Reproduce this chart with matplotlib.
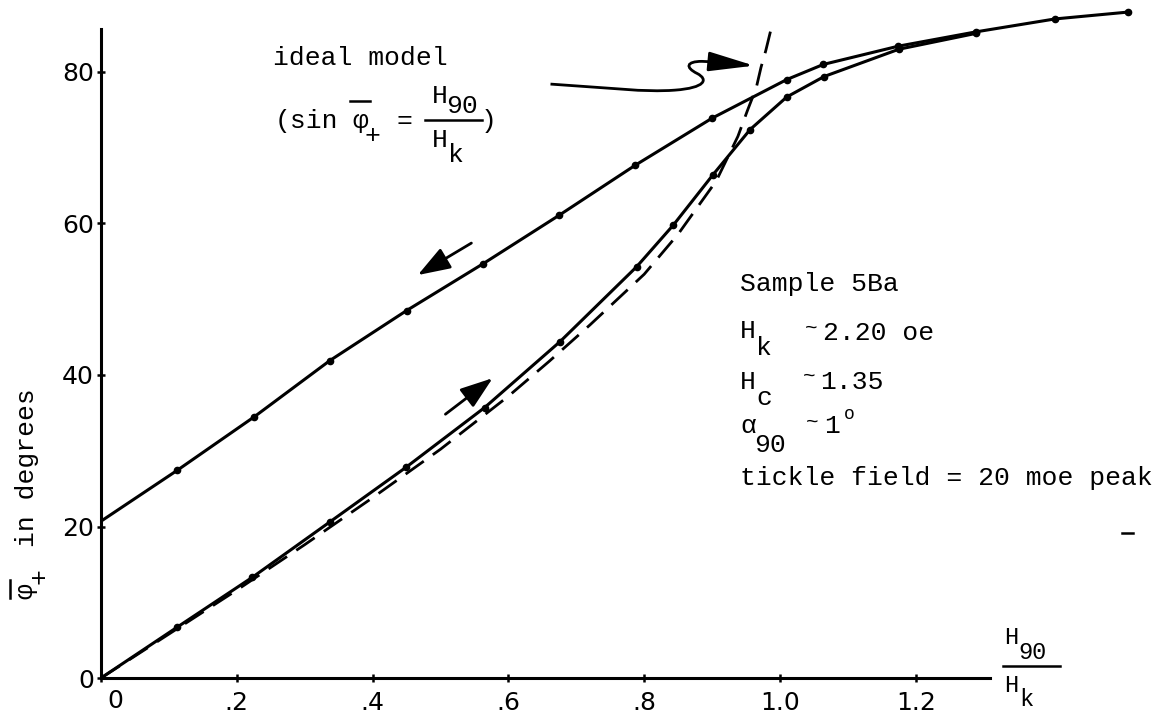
import matplotlib
matplotlib.use('Agg')
import matplotlib.pyplot as plt
from matplotlib.path import Path
from matplotlib.patches import PathPatch
from matplotlib.lines import Line2D

plt.rcParams['font.family'] = ['Liberation Mono', 'DejaVu Sans Mono']

# decreasing field branch (upper curve)
h_down = [0, 0.112, 0.226, 0.337, 0.45, 0.563, 0.675, 0.787, 0.90, 1.010, 1.064, 1.174, 1.289, 1.405, 1.512]
phi_down = [20.7, 27.4, 34.5, 41.9, 48.5, 54.7, 61.1, 67.7, 73.9, 79.0, 81.0, 83.4, 85.3, 87.0, 87.9]

# increasing field branch (lower curve)
h_up = [0, 0.112, 0.223, 0.337, 0.449, 0.565, 0.676, 0.789, 0.843, 0.901, 0.956, 1.010, 1.065, 1.175, 1.289]
phi_up = [0, 6.7, 13.3, 20.6, 27.8, 35.7, 44.4, 54.3, 59.8, 66.4, 72.4, 76.7, 79.4, 83.0, 85.1]

# ideal model, sin(phi) = H90/Hk
h_ideal = [0, 0.1, 0.2, 0.3, 0.4, 0.5, 0.6, 0.66, 0.72, 0.8, 0.85, 0.906, 0.938, 0.952, 0.965, 0.972, 0.979, 0.988]
phi_ideal = [0, 5.8, 11.6, 17.6, 23.8, 30.2, 37.2, 41.8, 46.6, 53.3, 58.6, 65.6, 71.5, 74.9, 77.9, 80.6, 82.8, 86.1]

xticks = [0, 0.2, 0.4, 0.6, 0.8, 1.0, 1.2]
xtick_labels = ['', '.2', '.4', '.6', '.8', '1.0', '1.2']
yticks = [0, 20, 40, 60, 80]
ytick_labels = ['0', '20', '40', '60', '80']

W, H = 1169, 714
fig = plt.figure(figsize=(W / 100, H / 100), dpi=100)
ax = fig.add_axes([0.0864, 0.0504, 0.9003, 0.9443])
ax.set_xlim(0, 1.55)
ax.set_ylim(0, 89)


def put(x, y, s, size=19, **kw):
    # typewriter text placed in pixel coordinates from the top-left corner
    fig.text(x / W, 1 - y / H, s, fontsize=size, va='baseline', **kw)


def rule(x1, y1, x2, y2, lw=1.8):
    fig.add_artist(Line2D([x1 / W, x2 / W], [1 - y1 / H, 1 - y2 / H],
                          transform=fig.transFigure, color='black', lw=lw))


ax.plot(h_down, phi_down, color='black', lw=2.2, marker='o', ms=4.5, markevery=list(range(1, len(h_down))))
ax.plot(h_up, phi_up, color='black', lw=2.2, marker='o', ms=4.5, markevery=list(range(1, len(h_up))))
ax.plot(h_ideal, phi_ideal, color='black', lw=2.0, linestyle=(0, (8, 4)))

# axes: only left and bottom, cut short
for s in ['top', 'right']:
    ax.spines[s].set_visible(False)
ax.spines['bottom'].set_bounds(0, 1.31)
ax.spines['left'].set_bounds(0, 85.7)
ax.spines['bottom'].set_linewidth(2.2)
ax.spines['left'].set_linewidth(2.2)

ax.set_xticks(xticks)
ax.set_xticklabels(xtick_labels, fontfamily='DejaVu Sans', fontsize=18)
ax.set_yticks(yticks)
ax.set_yticklabels(ytick_labels, fontfamily='DejaVu Sans', fontsize=18)
ax.tick_params(axis='both', direction='inout', length=6, width=1.8)
ax.tick_params(axis='x', pad=6)
ax.tick_params(axis='y', pad=2)
fig.text(115 / W, 1 - 689 / H, '0', fontfamily='DejaVu Sans', fontsize=18, ha='center', va='top')

# direction arrows along the branches
ax.annotate('', xy=(0.463, 53.0), xytext=(0.549, 57.6),
            arrowprops=dict(arrowstyle='-|>,head_length=1.0,head_width=0.35', color='black', lw=2, mutation_scale=20))
ax.annotate('', xy=(0.580, 39.8), xytext=(0.504, 34.6),
            arrowprops=dict(arrowstyle='-|>,head_length=1.0,head_width=0.35', color='black', lw=2, mutation_scale=20))

# curly pointer to the ideal curve
verts = [(0.662, 78.4),
         (0.75, 77.9), (0.80, 77.3), (0.845, 77.6),
         (0.89, 77.9), (0.895, 79.0), (0.878, 79.8),
         (0.86, 80.6), (0.862, 81.4), (0.885, 81.4),
         (0.91, 81.3)]
codes = [Path.MOVETO] + [Path.CURVE4] * 9 + [Path.LINETO]
ax.add_patch(PathPatch(Path(verts, codes), fill=False, lw=2, color='black'))
ax.annotate('', xy=(0.966, 80.8), xytext=(0.905, 81.3),
            arrowprops=dict(arrowstyle='-|>,head_length=1.4,head_width=0.3', color='black', lw=2, mutation_scale=20))

ax.plot([1.503, 1.52], [19.1, 19.1], color='black', lw=1.8)

# ideal model caption
put(273, 65, 'ideal model')
put(275, 128, '(sin')
put(352, 128, 'φ')
rule(350, 101, 370, 101)
put(365, 143, '+')
put(397, 128, '=')
put(432, 103, 'H')
put(446, 113, '90')
rule(425, 120, 482, 120)
put(432, 147, 'H')
put(448, 162, 'k')
put(481, 128, ')')

# sample parameters
put(740, 291, 'Sample 5Ba')
put(740, 338, 'H')
put(756, 355, 'k')
put(805, 334, '~', size=15)
put(823, 340, '2.20 oe')
put(740, 389, 'H')
put(756, 405, 'c')
put(803, 382, '~', size=15)
put(820, 389, '1.35')
put(740, 433, 'α')
put(754, 452, '90')
put(806, 428, '~', size=15)
put(824, 433, '1')
put(844, 419, 'o', size=13)
put(740, 485, 'tickle field = 20 moe peak')

# x axis label H90/Hk
put(1004, 644, 'H', size=17)
put(1018, 659, '90', size=17)
rule(1003, 666, 1060, 666)
put(1004, 692, 'H', size=17)
put(1019, 706, 'k', size=17)

# y axis label
fig.text(27 / W, 1 - 468 / H, 'in degrees', fontsize=19, rotation=90, ha='center', va='center')
fig.text(25 / W, 1 - 591 / H, 'φ', fontsize=19, rotation=90, ha='center', va='center')
fig.text(39 / W, 1 - 576 / H, '+', fontsize=19, rotation=90, ha='center', va='center')
rule(10, 580, 10, 598)

fig.savefig('out.png', dpi=100)
